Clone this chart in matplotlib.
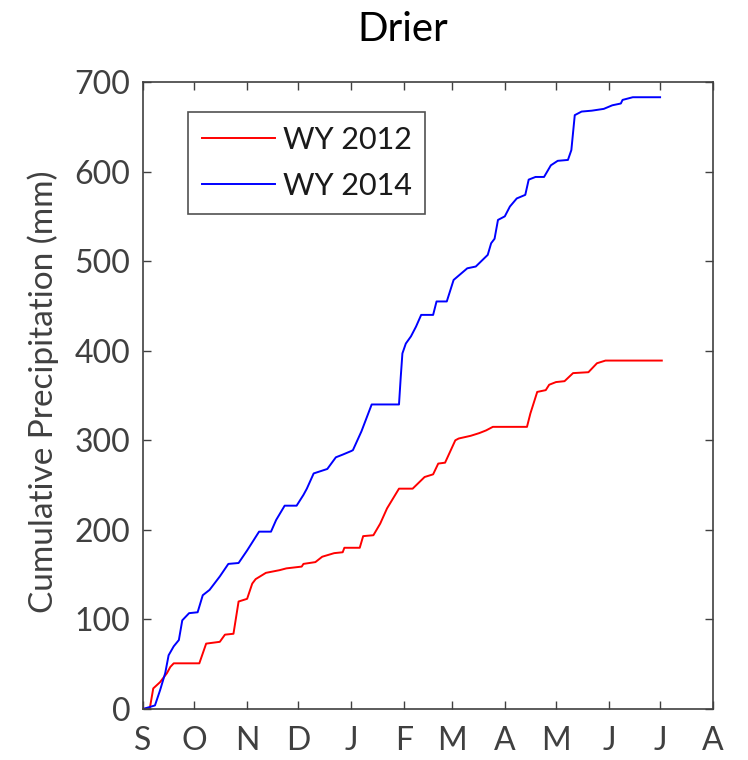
import matplotlib
matplotlib.use("Agg")
import matplotlib.pyplot as plt

# day of water year (0 = Sep 1) and cumulative precipitation (mm)
days_2012 = [0, 4, 6, 10, 14, 16, 18, 33, 37, 45, 48, 53, 56, 61, 64, 66, 72, 80, 84, 93, 94,
             101, 105, 112, 117, 118, 127, 129, 135, 139, 143, 150, 158, 165, 170, 173, 177,
             183, 185, 192, 197, 201, 205, 225, 227, 231, 236, 238, 242, 247, 252, 261, 266,
             271, 304]
precip_2012 = [0, 1, 23, 30, 40, 47, 51, 51, 73, 75, 83, 84, 120, 123, 140, 145, 152, 155, 157,
               159, 162, 164, 170, 174, 175, 180, 180, 193, 194, 207, 224, 246, 246, 259, 262,
               274, 275, 300, 302, 305, 308, 311, 315, 315, 330, 354, 356, 362, 365, 366, 375,
               376, 386, 389, 389]

days_2014 = [0, 7, 10, 13, 15, 18, 21, 23, 27, 32, 35, 39, 45, 50, 56, 61, 65, 68, 75, 78, 83,
             90, 94, 96, 100, 108, 113, 117, 122, 123, 128, 134, 150, 151, 152, 154, 157, 160,
             163, 170, 172, 178, 182, 190, 195, 202, 204, 206, 208, 212, 215, 219, 224, 226,
             230, 235, 239, 243, 249, 251, 253, 257, 263, 270, 275, 280, 281, 287, 303]
precip_2014 = [0, 4, 21, 40, 60, 70, 77, 99, 107, 108, 127, 133, 148, 162, 163, 177, 189, 198,
               198, 211, 227, 227, 239, 246, 263, 268, 281, 284, 288, 289, 310, 340, 340, 370,
               397, 408, 416, 427, 440, 440, 455, 455, 479, 492, 494, 507, 520, 525, 546, 550,
               561, 570, 574, 591, 594, 594, 607, 612, 613, 624, 663, 667, 668, 670, 674, 676,
               680, 683, 683]

month_days = [0, 30, 61, 91, 122, 153, 181, 212, 242, 273, 303, 334]
month_labels = ["S", "O", "N", "D", "J", "F", "M", "A", "M", "J", "J", "A"]
y_ticks = [0, 100, 200, 300, 400, 500, 600, 700]

plt.rcParams['font.family'] = ['Lato', 'DejaVu Sans']
fig = plt.figure(figsize=(7.48, 7.60), dpi=100)
ax = fig.add_axes([0.1912, 0.0671, 0.762, 0.8250])

ax.plot(days_2012, precip_2012, color="#ff0000", lw=1.4, label="WY 2012")
ax.plot(days_2014, precip_2014, color="#0000ff", lw=1.4, label="WY 2014")

ax.set_xlim(0, 334)
ax.set_ylim(0, 700)
ax.set_xticks(month_days)
ax.set_xticklabels(month_labels)
ax.set_yticks(y_ticks)

tc = "#404040"
for s in ax.spines.values():
    s.set_color("#404040")
    s.set_linewidth(1.2)
ax.tick_params(direction="in", top=True, right=True, length=6, width=1.0,
               colors="#404040", labelcolor=tc, labelsize=23)
ax.tick_params(axis="y", pad=9)
ax.tick_params(axis="x", pad=12)

ax.set_ylabel("Cumulative Precipitation (mm)", fontsize=24, color=tc)
ax.yaxis.set_label_coords(-0.147, 0.506)
fig.text(403 / 748, 1 - 41 / 760, "Drier", fontsize=29, color="black",
         ha="center", va="baseline")

leg = ax.legend(loc="upper left", bbox_to_anchor=(0.079, 0.952), borderaxespad=0,
                fontsize=22, frameon=True, fancybox=False, handlelength=2.4,
                borderpad=0.45, labelspacing=0.6, handletextpad=0.25)
leg.get_frame().set_edgecolor("#262626")
leg.get_frame().set_linewidth(1.2)
for t in leg.get_texts():
    t.set_color("#1a1a1a")

fig.savefig("out.png", dpi=100)
